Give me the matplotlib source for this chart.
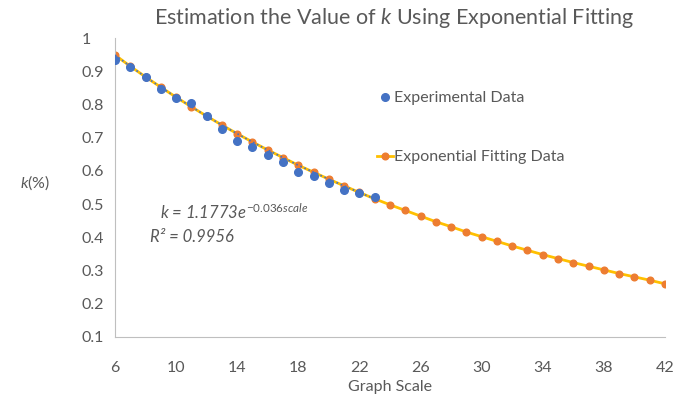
import numpy as np
import matplotlib.pyplot as plt

# Datos experimentales (escala 6..23)
escala_exp = [6, 7, 8, 9, 10, 11, 12, 13, 14, 15, 16, 17, 18, 19, 20, 21, 22, 23]
k_exp = [0.935, 0.914, 0.883, 0.848, 0.819, 0.803, 0.765, 0.727, 0.690, 0.673,
         0.648, 0.627, 0.598, 0.584, 0.565, 0.544, 0.532, 0.521]

# Datos del ajuste exponencial (escala 6..42)
escala_fit = list(range(6, 43))
k_fit = [0.949, 0.915, 0.883, 0.852, 0.822, 0.793, 0.765, 0.738, 0.712, 0.687,
         0.663, 0.640, 0.617, 0.596, 0.575, 0.555, 0.535, 0.516, 0.498, 0.481,
         0.464, 0.447, 0.432, 0.416, 0.402, 0.388, 0.374, 0.361, 0.348, 0.336,
         0.324, 0.313, 0.302, 0.291, 0.281, 0.271, 0.260]

x_ticks = [6, 10, 14, 18, 22, 26, 30, 34, 38, 42]
y_ticks = [0.1, 0.2, 0.3, 0.4, 0.5, 0.6, 0.7, 0.8, 0.9, 1]

gris = "#595959"
plt.rcParams['font.family'] = ['Lato', 'DejaVu Sans']
plt.rcParams['mathtext.fontset'] = 'custom'
plt.rcParams['mathtext.rm'] = 'Lato'
plt.rcParams['mathtext.it'] = 'Lato:italic'

fig = plt.figure(figsize=(6.97, 4.05), dpi=100)
ax = fig.add_axes([0.165, 0.168, 0.789, 0.738])

ax.plot(escala_fit, k_fit, color="#FFC000", lw=2, marker="o", ms=4.8,
        mfc="#ED7D31", mec="#ED7D31", label="Exponential Fitting Data", zorder=2)
# linea de tendencia punteada
ax.plot(escala_exp, k_fit[:len(escala_exp)], color="#4472C4", lw=1.2, ls=":", zorder=3)
ax.plot(escala_exp, k_exp, ls="none", marker="o", ms=5.5, color="#4472C4",
        label="Experimental Data", zorder=4)

ax.set_xlim(6, 42)
ax.set_ylim(0.1, 1)
ax.set_xticks(x_ticks)
ax.set_yticks(y_ticks)
ax.set_yticklabels([f"{v:g}" for v in y_ticks])
ax.tick_params(length=0, colors=gris, labelsize=11.5)
ax.tick_params(axis="x", pad=17)
for lbl in ax.get_yticklabels():
    lbl.set_horizontalalignment("left")
    lbl.set_x(-0.052)

for s in ["top", "right"]:
    ax.spines[s].set_visible(False)
for s in ["left", "bottom"]:
    ax.spines[s].set_color("#BFBFBF")

ax.set_xlabel("Graph Scale", color=gris, fontsize=11.5, labelpad=4)
fig.text(0.05, 0.55, r"$k$(%)", color=gris, fontsize=11.5, ha="center", va="center")

fig.text(0.565, 0.955, "Estimation the Value of $k$ Using Exponential Fitting",
         ha="center", va="center", color=gris, fontsize=15.5)

ax.text(8.95, 0.455, r"$k$ = 1.1773$e^{-0.036scale}$", color=gris, fontsize=12,
        style="italic")
ax.text(8.3, 0.385, "R² = 0.9956", color=gris, fontsize=12, style="italic")

handles, labels = ax.get_legend_handles_labels()
ax.legend(handles[::-1], labels[::-1], loc="upper left", bbox_to_anchor=(0.45, 0.87),
          frameon=False, labelspacing=2.8, handlelength=1.0, handletextpad=0.1,
          fontsize=11.5, labelcolor=gris)

fig.savefig("out.png", dpi=100)
